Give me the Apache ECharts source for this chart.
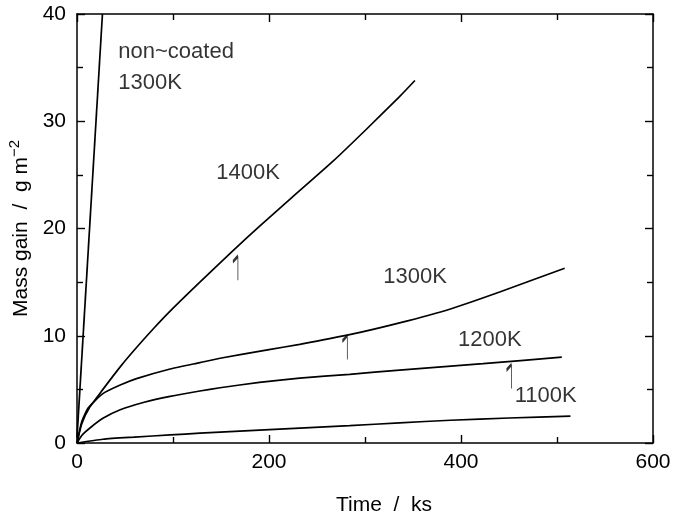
<!DOCTYPE html>
<html>
<head>
<meta charset="utf-8">
<script src="https://cdn.jsdelivr.net/npm/echarts@6/dist/echarts.min.js"></script>
<style>
  html, body { margin: 0; padding: 0; background: #fff; }
  #main { width: 674px; height: 515px; }
</style>
</head>
<body>
<div id="main"></div>
<script>
// 读图得到的数据 (Time / ks, Mass gain / g m^-2)
const nonCoated1300 = [[0, 0.5], [26.5, 40]];
const coated1400 = [[0, 0], [5, 1.8], [13, 3.3], [27, 5], [45, 7.1], [62, 8.9], [80, 10.7], [97, 12.3],
  [128, 15], [162, 17.9], [190, 20.2], [224, 22.9], [267, 26.3], [302, 29.3], [336, 32.3], [352, 33.8]];
const coated1300 = [[0, 0], [5, 2], [12, 3.3], [27, 4.6], [45, 5.4], [62, 6], [97, 6.9], [128, 7.5],
  [149, 7.9], [200, 8.7], [232, 9.2], [284, 10.1], [336, 11.2], [389, 12.5], [441, 14.1], [508, 16.3]];
const coated1200 = [[0, 0], [5, 0.7], [13.5, 1.4], [27, 2.3], [45, 3.1], [70, 3.8], [97, 4.35],
  [128, 4.85], [149, 5.15], [190, 5.65], [232, 6.05], [284, 6.4], [336, 6.8], [423, 7.4], [505, 8.0]];
const coated1100 = [[0, 0], [27, 0.35], [60, 0.55], [97, 0.75], [128, 0.92], [149, 1.02], [190, 1.2],
  [232, 1.38], [284, 1.62], [336, 1.88], [389, 2.12], [450, 2.33], [514, 2.5]];

// 箭头位置 (曲线下方的小箭头)
const arrowPoints = [[165, 16.3], [279, 8.9], [450, 6.2]];

// 曲线旁的文字标注
const labelTexts = ['non~coated', '1300K', '1400K', '1300K', '1200K', '1100K'];
const labelPoints = [[43, 36.5], [43, 33.6], [145, 25.2], [319, 15.5], [397, 9.6], [456, 4.4]];

const chart = echarts.init(document.getElementById('main'));
const FONT = 'Liberation Sans';

const lineSeries = (data) => ({
  type: 'line', data: data, showSymbol: false, symbol: 'none',
  smooth: 0.2,
  lineStyle: { color: '#000', width: 1.7 }, silent: true
});

// 四边框都带向内的刻度
const tickCommon = {
  axisLine: { show: true, onZero: false, lineStyle: { color: '#000', width: 1.5 } },
  axisTick: { show: true, inside: true, length: 8, lineStyle: { color: '#000', width: 1.4 } },
  minorTick: { show: true, splitNumber: 2, length: 6, lineStyle: { color: '#000', width: 1.4 } },
  splitLine: { show: false }
};

chart.setOption({
  animation: false,
  backgroundColor: '#fff',
  textStyle: { fontFamily: FONT },
  grid: { left: 77, right: 21, top: 14, bottom: 72, outerBoundsMode: 'none' },
  xAxis: [
    Object.assign({
      type: 'value', min: 0, max: 600, interval: 200, position: 'bottom',
      name: 'Time  /  ks', nameLocation: 'middle', nameGap: 52,
      nameTextStyle: { color: '#000', fontSize: 21, fontFamily: FONT, padding: [0, 0, 0, 38] },
      axisLabel: { color: '#000', fontSize: 21, fontFamily: FONT, margin: 9 }
    }, tickCommon),
    Object.assign({
      type: 'value', min: 0, max: 600, interval: 200, position: 'top',
      axisLabel: { show: false }
    }, tickCommon)
  ],
  yAxis: [
    Object.assign({
      type: 'value', min: 0, max: 40, interval: 10, position: 'left',
      name: 'Mass gain  /  g m{sup|−2}', nameLocation: 'middle', nameGap: 42,
      nameTextStyle: {
        color: '#000', fontSize: 21, fontFamily: FONT,
        rich: { sup: { fontSize: 15, fontFamily: FONT, color: '#000', padding: [0, 0, 12, 0] } }
      },
      axisLabel: { color: '#000', fontSize: 21, fontFamily: FONT, margin: 11 }
    }, tickCommon),
    Object.assign({
      type: 'value', min: 0, max: 40, interval: 10, position: 'right',
      axisLabel: { show: false }
    }, tickCommon)
  ],
  series: [
    lineSeries(nonCoated1300),
    lineSeries(coated1400),
    lineSeries(coated1300),
    lineSeries(coated1200),
    lineSeries(coated1100),
    {
      type: 'scatter', silent: true,
      data: arrowPoints,
      symbol: 'path://M4,0 L4,30 M4,0 L0,7',
      symbolSize: [5, 24],
      itemStyle: { color: 'none', borderColor: '#000', borderWidth: 1.7 }
    },
    {
      type: 'scatter', silent: true, symbolSize: 0,
      data: labelPoints.map((p, i) => ({ value: p, name: labelTexts[i] })),
      label: {
        show: true, position: 'right', distance: 0,
        formatter: (p) => p.name,
        color: '#000', fontSize: 22, fontFamily: FONT
      }
    }
  ]
});
</script>
</body>
</html>
